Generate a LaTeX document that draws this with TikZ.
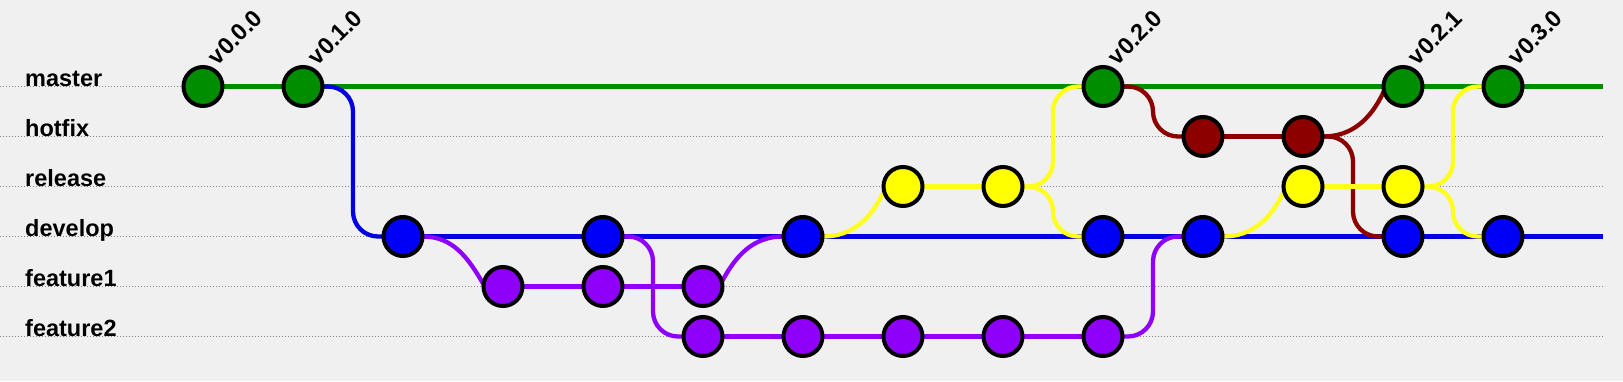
\documentclass[tikz,border=0pt]{standalone}
\usepackage{fontspec}
\setmainfont{Liberation Sans}
\usetikzlibrary{calc}
\definecolor{bgcol}{RGB}{240,240,240}
\definecolor{cgreen}{RGB}{0,142,0}
\definecolor{cblue}{RGB}{0,0,250}
\definecolor{lblue}{RGB}{0,0,225}
\definecolor{cpurple}{RGB}{143,0,250}
\definecolor{cyellow}{RGB}{255,255,0}
\definecolor{lyellow}{RGB}{255,255,30}
\definecolor{cred}{RGB}{140,0,0}
\definecolor{lanegray}{RGB}{130,130,130}
\newcommand\symflow[3]{%
  \coordinate (mid#2#3) at ($(#2.center)!0.5!(#3.center)$);
  \draw[flow,#1,rounded corners=25pt] (#2.center) -- (#2.center -| mid#2#3) -- (#3.center -| mid#2#3) -- (#3.center);
}
\begin{document}
\begin{tikzpicture}[x=1pt,y=1pt,
  commit/.style={circle, draw=black, line width=4pt, minimum size=39pt, inner sep=0pt},
  lane/.style={draw=lanegray, line width=1.3pt, dash pattern=on 1.4pt off 1.6pt},
  lanelabel/.style={anchor=base west, inner sep=0pt, font=\fontsize{23.5}{23.5}\selectfont\bfseries},
  tag/.style={anchor=south west, rotate=45, inner sep=0pt, font=\fontsize{23.5}{23.5}\selectfont\bfseries},
  flow/.style={line width=4.3pt},
]
\useasboundingbox (0,0) rectangle (1623,381);
\fill[bgcol] (0,0) rectangle (1623,381);

% lanes
\foreach \nm/\yy in {master/294.5, hotfix/244.5, release/194.5, develop/144.5, feature1/94.5, feature2/44.5}{
  \coordinate (L\nm) at (0,\yy);
  \coordinate (R\nm) at (1603,\yy);
  \draw[lane] (L\nm) -- (R\nm);
  \node[lanelabel] (lab\nm) at (25,\yy) {\nm};
}

% commit positions
\coordinate (m0) at (203,294.5);
\coordinate (m1) at (303,294.5);
\coordinate (m9) at (1103,294.5);
\coordinate (m12) at (1403,294.5);
\coordinate (m13) at (1503,294.5);
\coordinate (h10) at (1203,244.5);
\coordinate (h11) at (1303,244.5);
\coordinate (r7) at (903,194.5);
\coordinate (r8) at (1003,194.5);
\coordinate (r11) at (1303,194.5);
\coordinate (r12) at (1403,194.5);
\coordinate (d2) at (403,144.5);
\coordinate (d4) at (603,144.5);
\coordinate (d6) at (803,144.5);
\coordinate (d9) at (1103,144.5);
\coordinate (d10) at (1203,144.5);
\coordinate (d12) at (1403,144.5);
\coordinate (d13) at (1503,144.5);
\coordinate (a3) at (503,94.5);
\coordinate (a4) at (603,94.5);
\coordinate (a5) at (703,94.5);
\coordinate (b5) at (703,44.5);
\coordinate (b6) at (803,44.5);
\coordinate (b7) at (903,44.5);
\coordinate (b8) at (1003,44.5);
\coordinate (b9) at (1103,44.5);

% connectors
\draw[flow, cgreen] (m0.center) -- (Rmaster);
\draw[flow, lblue] (d2.center) -- (Rdevelop);
\symflow{lblue}{m1}{d2}

\draw[flow, cpurple] (a3.center) -- (a4.center) -- (a5.center);
\draw[flow, cpurple] (b5.center) -- (b6.center) -- (b7.center) -- (b8.center) -- (b9.center);
\draw[flow, cpurple] (d2.center) -- ++(20,0) to[out=0,in=120] ($(a3.center)+(-20,3)$) -- (a3.center);
\draw[flow, cpurple] (a5.center) -- ++(19,5) to[out=62,in=180] ($(d6.center)+(-20,0)$) -- (d6.center);
\symflow{cpurple}{d4}{b5}
\symflow{cpurple}{b9}{d10}

\draw[flow, cred] (h10.center) -- (h11.center);
\symflow{cred}{m9}{h10}
\symflow{cred}{h11}{d12}
\draw[flow, cred] (h11.center) -- ++(20,0) to[out=0,in=245] ($(m12.center)+(-19.5,-5.5)$) -- (m12.center);

\draw[flow, lyellow] (r7.center) -- (r8.center);
\draw[flow, lyellow] (r11.center) -- (r12.center);
\draw[flow, lyellow] (d6.center) -- ++(20,0) to[out=0,in=245] ($(r7.center)+(-19.5,-5.5)$) -- (r7.center);
\draw[flow, lyellow] (d10.center) -- ++(20,0) to[out=0,in=245] ($(r11.center)+(-19.5,-5.5)$) -- (r11.center);
\symflow{lyellow}{r8}{m9}
\symflow{lyellow}{r8}{d9}
\symflow{lyellow}{r12}{m13}
\symflow{lyellow}{r12}{d13}

% commits on top
\foreach \n/\c in {m0/cgreen,m1/cgreen,m9/cgreen,m12/cgreen,m13/cgreen,
  h10/cred,h11/cred,r7/cyellow,r8/cyellow,r11/cyellow,r12/cyellow,
  d2/cblue,d4/cblue,d6/cblue,d9/cblue,d10/cblue,d12/cblue,d13/cblue,
  a3/cpurple,a4/cpurple,a5/cpurple,b5/cpurple,b6/cpurple,b7/cpurple,b8/cpurple,b9/cpurple}{
  \node[commit, fill=\c] (c\n) at (\n) {};
}

% tags
\node[tag] (t0) at ($(m0)+(15,20)$) {v0.0.0};
\node[tag] (t1) at ($(m1)+(15,20)$) {v0.1.0};
\node[tag] (t2) at ($(m9)+(15,20)$) {v0.2.0};
\node[tag] (t3) at ($(m12)+(15,20)$) {v0.2.1};
\node[tag] (t4) at ($(m13)+(15,20)$) {v0.3.0};
\end{tikzpicture}
\end{document}
